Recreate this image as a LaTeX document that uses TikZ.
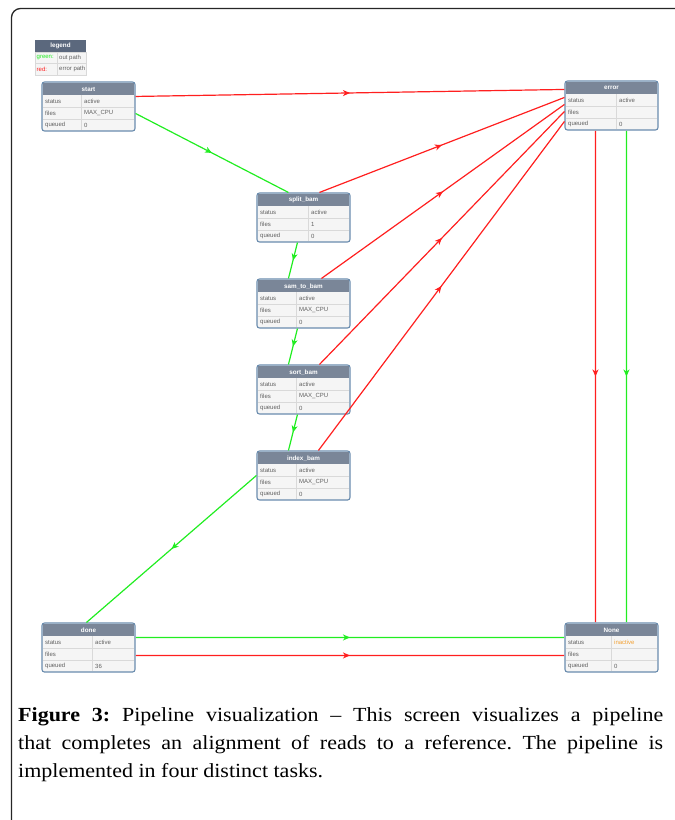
\documentclass[tikz,border=0pt]{standalone}
\usepackage{fontspec}
\setmainfont{Liberation Serif}
\newfontfamily\capfont[FakeStretch=1.1,Ligatures=TeX]{Liberation Serif}
\newfontfamily\boxfont{Liberation Sans}
\usetikzlibrary{calc,arrows.meta,decorations.markings}
\definecolor{hdrgray}{HTML}{7A8698}
\definecolor{legendhdr}{HTML}{5B687D}
\definecolor{frameblue}{HTML}{6A8CAE}
\definecolor{rowfill}{HTML}{F5F5F5}
\definecolor{gridgray}{HTML}{D9D9D9}
\definecolor{txtgray}{HTML}{606060}
\definecolor{edgered}{rgb}{1,0.12,0.12}
\definecolor{edgegreen}{rgb}{0.13,0.93,0.13}
\definecolor{inactiveorange}{HTML}{F2A033}
\tikzset{
  taskframe/.style={draw=frameblue, line width=1.1pt, rounded corners=2.5pt, fill=rowfill,
    minimum width=93pt, minimum height=49pt, inner sep=0pt},
  hdrtext/.style={font=\boxfont\bfseries\fontsize{6.3}{7}\selectfont, text=white, inner sep=0pt},
  celltext/.style={font=\boxfont\fontsize{6}{7}\selectfont, text=txtgray, inner sep=0pt, anchor=west},
  midarrow/.style={postaction={decorate},
    decoration={markings, mark=at position 0.5 with {\arrow[#1]{Stealth[length=7pt,width=6pt,inset=2pt]}}}},
  okflow/.style={edgegreen, line width=1.2pt, line cap=butt, midarrow=edgegreen},
  errflow/.style={edgered, line width=1.2pt, line cap=butt, midarrow=edgered},
}
\newcommand\taskbox[8]{%
  \node[taskframe] (#1) at (#2+46.5,#3+24.5) {};
  \fill[hdrgray] (#2+1.2,#3+13) -- (#2+1.2,#3+1.2) -- (#2+91.8,#3+1.2) -- (#2+91.8,#3+13) -- cycle;
  \draw[gridgray, line width=0.5pt] (#2+1.2,#3+25.2) -- (#2+91.8,#3+25.2)
        (#2+1.2,#3+37.2) -- (#2+91.8,#3+37.2)
        (#2+#8,#3+13) -- (#2+#8,#3+47.8);
  \node[hdrtext] (#1-title) at (#2+46.5,#3+7.2) {#4};
  \node[celltext] (#1-sl) at (#2+3,#3+19.3) {status};
  \node[celltext] (#1-fl) at (#2+3,#3+31.3) {files};
  \node[celltext] (#1-ql) at (#2+3,#3+43) {queued};
  \node[celltext] (#1-sv) at (#2+#8+3,#3+19.3) {#5};
  \node[celltext] (#1-fv) at (#2+#8+3,#3+31.3) {#6};
  \node[celltext] (#1-qv) at (#2+#8+3,#3+43) {#7};
}
\begin{document}
\begin{tikzpicture}[x=1pt,y=-1pt]
\useasboundingbox (0,0) rectangle (675,820);
\clip (0,0) rectangle (675,820);
% outer frame
\draw[line width=1.3pt, color=black!85, rounded corners=9pt] (11.5,840) -- (11.5,8.5) -- (700,8.5);
% legend
\fill[rowfill] (35,40) rectangle (86,75);
\fill[legendhdr] (35,40) rectangle (86,52);
\draw[gridgray, line width=0.5pt] (35,52) rectangle (86,75) (35,63.5) -- (86,63.5) (57,52) -- (57,75);
\node[hdrtext] (legend) at (60.5,46.2) {legend};
\node[celltext, text=edgegreen] (lg1) at (36.5,57.9) {green:};
\node[celltext] (lg2) at (59,57.9) {out path};
\node[celltext, text=edgered] (lg3) at (36.5,69.4) {red:};
\node[celltext] (lg4) at (59,69.4) {error path};
% task boxes
\taskbox{start}{42}{82}{start}{active}{MAX\_CPU}{0}{39}
\taskbox{split}{257}{193}{split\_bam}{active}{1}{0}{51}
\taskbox{sam}{257}{279}{sam\_to\_bam}{active}{MAX\_CPU}{0}{39}
\taskbox{sort}{257}{365}{sort\_bam}{active}{MAX\_CPU}{0}{39}
\taskbox{index}{257}{451}{index\_bam}{active}{MAX\_CPU}{0}{39}
\taskbox{error}{565}{81}{error}{active}{}{0}{51}
\taskbox{done}{42}{623}{done}{active}{}{36}{50}
\taskbox{nonetask}{565}{623}{None}{\textcolor{inactiveorange}{inactive}}{}{0}{46}
% connectors
\draw[errflow] ($(start.north east)+(0,15)$) -- ($(error.north west)+(0,9)$);
\draw[okflow] ($(start.north east)+(0,32)$) -- ($(split.north west)+(32,0)$);
\draw[errflow] ($(split.north west)+(63,0)$) -- ($(error.north west)+(0,17)$);
\draw[errflow] ($(sam.north west)+(65,0)$) -- ($(error.north west)+(0,24)$);
\draw[errflow] ($(sort.north west)+(63,0)$) -- ($(error.north west)+(0,31)$);
\draw[errflow] ($(index.north west)+(62,0)$) -- ($(error.north west)+(0,41)$);
\draw[okflow] ($(split.south west)+(41,0)$) -- ($(sam.north west)+(32,0)$);
\draw[okflow] ($(sam.south west)+(41,0)$) -- ($(sort.north west)+(32,0)$);
\draw[okflow] ($(sort.south west)+(41,0)$) -- ($(index.north west)+(32,0)$);
\draw[okflow] ($(index.north west)+(0,25)$) -- ($(done.north west)+(45,0)$);
\draw[errflow] ($(error.south west)+(31,0.3)$) -- ($(nonetask.north west)+(31.01,-0.3)$);
\draw[okflow] ($(error.south west)+(62,0.3)$) -- ($(nonetask.north west)+(62.01,-0.3)$);
\draw[okflow] ($(done.north east)+(0.3,15)$) -- ($(nonetask.north west)+(-0.3,15.01)$);
\draw[errflow] ($(done.north east)+(0.3,33)$) -- ($(nonetask.north west)+(-0.3,33.01)$);
% caption
\node[anchor=north west, text width=645pt, align=justify, inner sep=0pt,
      font=\capfont\fontsize{20}{28}\selectfont\frenchspacing] (caption) at (18,707)
  {\textbf{Figure 3:} Pipeline visualization – This screen visualizes a pipeline\linebreak
   that completes an alignment of reads to a reference. The pipeline is\linebreak
   implemented in four distinct tasks.};
\end{tikzpicture}
\end{document}
